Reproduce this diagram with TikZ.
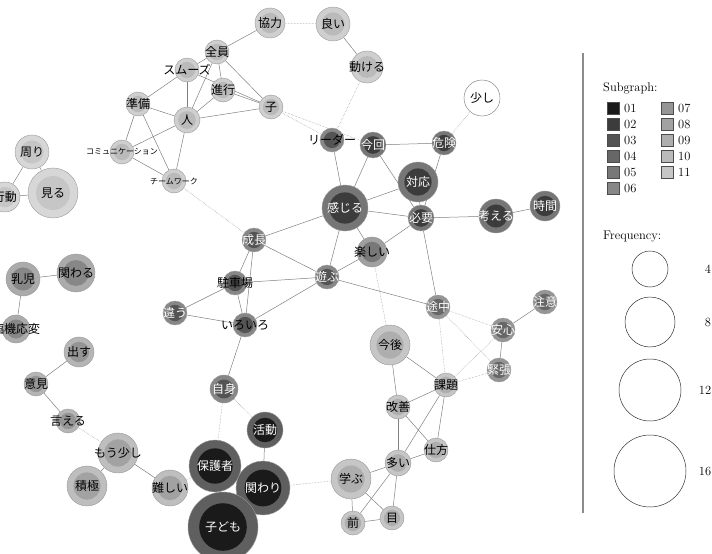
\documentclass[tikz,border=0pt]{standalone}
\usepackage{fontspec}
\newfontfamily\jp{Noto Sans CJK JP}
\usetikzlibrary{calc,backgrounds}
\definecolor{sgA}{HTML}{1A1A1A}
\definecolor{sgB}{HTML}{3C3C3C}
\definecolor{sgC}{HTML}{545454}
\definecolor{sgD}{HTML}{676767}
\definecolor{sgE}{HTML}{787878}
\definecolor{sgF}{HTML}{878787}
\definecolor{sgG}{HTML}{959595}
\definecolor{sgH}{HTML}{A2A2A2}
\definecolor{sgI}{HTML}{AEAEAE}
\definecolor{sgJ}{HTML}{BABABA}
\definecolor{sgK}{HTML}{C6C6C6}
\newcommand\tag[1]{\makebox[0pt]{#1}}
\newcommand\dtag[1]{\makebox[0pt]{\color{white}#1}}

\begin{document}
\begin{tikzpicture}[x=1pt, y=-1pt,
    every node/.style={inner sep=0pt},
    word/.style={circle, draw=black!40, line width=0.4pt,
                 font=\jp\fontsize{12}{12}\selectfont},
    small/.style={font=\jp\fontsize{8}{8}\selectfont},
    core/.style={path picture={\fill[#1] let \p1=(path picture bounding box.east),
                 \p2=(path picture bounding box.center) in (\p2) circle ({0.68*(\x1-\x2)});}},
    g1/.style={word, fill=sgA!70!white, core=sgA},
    g2/.style={word, fill=sgB!70!white, core=sgB},
    g3/.style={word, fill=sgC!70!white, core=sgC},
    g4/.style={word, fill=sgD!70!white, core=sgD},
    g5/.style={word, fill=sgE!70!white, core=sgE},
    g6/.style={word, fill=sgF!70!white, core=sgF},
    g7/.style={word, fill=sgG!70!white, core=sgG},
    g8/.style={word, fill=sgH!70!white, core=sgH},
    g9/.style={word, fill=sgI!70!white, core=sgI},
    g10/.style={word, fill=sgJ!70!white, core=sgJ},
    g11/.style={word, fill=sgK!70!white, core=sgK},
    lone/.style={word, fill=white, draw=black!55},
    link/.style={draw=black!50, line width=0.5pt},
    weak/.style={draw=black!40, line width=0.5pt, densely dotted},
    key/.style={rectangle, draw=black!70, minimum size=12},
    freq/.style={circle, draw=black!80, line width=0.5pt},
    legend/.style={font=\fontsize{12.5}{12.5}\selectfont}]
  \useasboundingbox (0,0) rectangle (712,554);
  % teamwork cluster (top left)
  \node[g10, minimum size=30] (kyoryoku) at (270,23) {\tag{協力}};
  \node[g10, minimum size=34] (yoi) at (333,24) {\tag{良い}};
  \node[g10, minimum size=32] (ugokeru) at (367,67) {\tag{動ける}};
  \node[g10, minimum size=24] (zenin) at (217,52) {\tag{全員}};
  \node[g10, minimum size=24] (smooth) at (187,70) {\tag{スムーズ}};
  \node[g10, minimum size=24] (shinko) at (223,90) {\tag{進行}};
  \node[g10, minimum size=24] (ko) at (271,107) {\tag{子}};
  \node[g10, minimum size=24] (junbi) at (138,104) {\tag{準備}};
  \node[g10, minimum size=26] (hito) at (187,120) {\tag{人}};
  \node[g10, small, minimum size=24] (comm) at (122,152) {\tag{コミュニケーション}};
  \node[g10, small, minimum size=24] (team) at (174,181) {\tag{チームワーク}};
  % small groups on the left
  \node[g11, minimum size=34] (mawari) at (32,152) {\tag{周り}};
  \node[g11, minimum size=50] (miru) at (53,193) {\tag{見る}};
  \node[g11, minimum size=30] (kodo) at (5,197) {\tag{行動}};
  \node[g6, minimum size=34] (nyuji) at (23,279) {\tag{乳児}};
  \node[g6, minimum size=38] (kakawaru) at (76,273) {\tag{関わる}};
  \node[g6, minimum size=28] (rinki) at (16,329) {\tag{臨機応変}};
  \node[g7, minimum size=30] (dasu) at (79,352) {\tag{出す}};
  \node[g7, minimum size=24] (iken) at (36,384) {\tag{意見}};
  \node[g7, minimum size=24] (ieru) at (68,421) {\tag{言える}};
  \node[g8, minimum size=40] (mosukoshi) at (118,453) {\tag{もう少し}};
  \node[g8, minimum size=40] (sekkyoku) at (87,486) {\tag{積極}};
  \node[g8, minimum size=36] (muzukashii) at (170,488) {\tag{難しい}};
  % centre
  \node[lone, minimum size=36] (sukoshi) at (482,98) {\tag{少し}};
  \node[g3, minimum size=24] (leader) at (332,140) {\tag{リーダー}};
  \node[g2, minimum size=26] (konkai) at (373,145) {\dtag{今回}};
  \node[g2, minimum size=24] (kiken) at (444,143) {\dtag{危険}};
  \node[g2, minimum size=40] (taio) at (418,182) {\dtag{対応}};
  \node[g2, minimum size=46] (kanjiru) at (345,208) {\dtag{感じる}};
  \node[g2, minimum size=26] (hitsuyo) at (421,218) {\dtag{必要}};
  \node[g2, minimum size=34] (kangaeru) at (496,216) {\dtag{考える}};
  \node[g2, minimum size=30] (jikan) at (545,206) {\dtag{時間}};
  \node[g5, minimum size=30] (tanoshii) at (372,252) {\tag{楽しい}};
  \node[g3, minimum size=24] (seicho) at (254,240) {\dtag{成長}};
  \node[g3, minimum size=24] (parking) at (235,283) {\tag{駐車場}};
  \node[g3, minimum size=24] (asobu) at (327,277) {\dtag{遊ぶ}};
  \node[g3, minimum size=24] (chigau) at (175,313) {\dtag{違う}};
  \node[g3, minimum size=24] (iroiro) at (245,325) {\tag{いろいろ}};
  \node[g3, minimum size=28] (jishin) at (224,389) {\dtag{自身}};
  \node[g4, minimum size=24] (tochu) at (438,307) {\dtag{途中}};
  \node[g4, minimum size=24] (chui) at (545,302) {\dtag{注意}};
  \node[g4, minimum size=24] (anshin) at (503,330) {\dtag{安心}};
  \node[g4, minimum size=24] (kincho) at (499,370) {\dtag{緊張}};
  % lower right
  \node[g9, minimum size=40] (kongo) at (390,345) {\tag{今後}};
  \node[g9, minimum size=24] (kadai) at (446,385) {\tag{課題}};
  \node[g9, minimum size=24] (kaizen) at (398,407) {\tag{改善}};
  \node[g9, minimum size=24] (shikata) at (436,450) {\tag{仕方}};
  \node[g9, minimum size=26] (ooi) at (398,463) {\tag{多い}};
  \node[g9, minimum size=40] (manabu) at (351,479) {\tag{学ぶ}};
  \node[g9, minimum size=24] (mae) at (353,523) {\tag{前}};
  \node[g9, minimum size=24] (me) at (392,518) {\tag{目}};
  % bottom
  \node[g1, minimum size=36] (katsudo) at (265,430) {\dtag{活動}};
  \node[g1, minimum size=52] (hogosha) at (215,466) {\dtag{保護者}};
  \node[g1, minimum size=54] (kakawari) at (263,488) {\dtag{関わり}};
  \node[g1, minimum size=70] (kodomo) at (223,527) {\dtag{子ども}};

  \begin{pgfonlayer}{background}
  \draw[link] (kyoryoku)--(zenin); \draw[link] (yoi)--(ugokeru);
  \draw[link] (zenin)--(smooth); \draw[link] (zenin)--(shinko); \draw[link] (zenin)--(ko);
  \draw[link] (zenin)--(hito); \draw[link] (smooth)--(junbi); \draw[link] (smooth)--(hito);
  \draw[link] (smooth)--(ko); \draw[link] (shinko)--(ko); \draw[link] (shinko)--(hito);
  \draw[link] (hito)--(ko); \draw[link] (junbi)--(hito); \draw[link] (junbi)--(comm);
  \draw[link] (junbi)--(team); \draw[link] (hito)--(comm); \draw[link] (hito)--(team);
  \draw[link] (comm)--(team);
  \draw[link] (mawari)--(kodo); \draw[link] (mawari)--(miru); \draw[link] (kodo)--(miru);
  \draw[link] (nyuji)--(kakawaru); \draw[link] (nyuji)--(rinki);
  \draw[link] (dasu)--(iken); \draw[link] (iken)--(ieru);
  \draw[link] (mosukoshi)--(sekkyoku); \draw[link] (mosukoshi)--(muzukashii);
  \draw[link] (leader)--(kanjiru); \draw[link] (konkai)--(kanjiru); \draw[link] (konkai)--(kiken);
  \draw[link] (konkai)--(hitsuyo); \draw[link] (kiken)--(hitsuyo); \draw[link] (taio)--(kanjiru);
  \draw[link] (taio)--(hitsuyo); \draw[link] (kanjiru)--(hitsuyo); \draw[link] (kanjiru)--(tanoshii);
  \draw[link] (kanjiru)--(asobu); \draw[link] (kanjiru)--(seicho); \draw[link] (hitsuyo)--(kangaeru);
  \draw[link] (kangaeru)--(jikan); \draw[link] (hitsuyo)--(tanoshii); \draw[link] (hitsuyo)--(tochu);
  \draw[link] (tanoshii)--(asobu); \draw[link] (seicho)--(asobu); \draw[link] (seicho)--(parking);
  \draw[link] (seicho)--(iroiro); \draw[link] (parking)--(asobu); \draw[link] (parking)--(chigau);
  \draw[link] (parking)--(iroiro); \draw[link] (chigau)--(iroiro); \draw[link] (asobu)--(iroiro);
  \draw[link] (asobu)--(tochu); \draw[link] (iroiro)--(jishin);
  \draw[link] (chui)--(anshin); \draw[link] (anshin)--(kincho);
  \draw[link] (kongo)--(kadai); \draw[link] (kongo)--(kaizen); \draw[link] (kadai)--(kaizen);
  \draw[link] (kadai)--(shikata); \draw[link] (kadai)--(ooi); \draw[link] (kaizen)--(ooi);
  \draw[link] (kaizen)--(shikata); \draw[link] (shikata)--(ooi); \draw[link] (ooi)--(manabu);
  \draw[link] (ooi)--(mae); \draw[link] (ooi)--(me); \draw[link] (manabu)--(mae);
  \draw[link] (manabu)--(me); \draw[link] (mae)--(me);
  \draw[link] (katsudo)--(kakawari); \draw[link] (hogosha)--(kodomo);
  \draw[link] (hogosha)--(kakawari); \draw[link] (kakawari)--(kodomo);
  % weaker ties
  \draw[weak] (kyoryoku)--(yoi); \draw[weak] (ugokeru)--(leader); \draw[weak] (ko)--(leader);
  \draw[weak] (ko)--(konkai); \draw[weak] (kiken)--(sukoshi); \draw[weak] (team)--(seicho);
  \draw[weak] (tanoshii)--(kongo); \draw[weak] (tochu)--(anshin); \draw[weak] (tochu)--(kincho);
  \draw[weak] (tochu)--(kadai); \draw[weak] (kadai)--(anshin); \draw[weak] (kadai)--(kincho);
  \draw[weak] (ieru)--(mosukoshi); \draw[weak] (muzukashii)--(hogosha);
  \draw[weak] (jishin)--(hogosha); \draw[weak] (jishin)--(katsudo); \draw[weak] (kakawari)--(manabu);
  \end{pgfonlayer}

  % legend
  \draw[draw=black!45, line width=1.2pt] (583,53) -- (583,513);
  \node[legend, anchor=west] (subhead) at (603,88) {Subgraph:};
  \node[key, fill=sgA] (k01) at (613,108) {}; \node[legend, anchor=west] (t01) at (624,108) {01};
  \node[key, fill=sgB] (k02) at (613,124) {}; \node[legend, anchor=west] (t02) at (624,124) {02};
  \node[key, fill=sgC] (k03) at (613,140) {}; \node[legend, anchor=west] (t03) at (624,140) {03};
  \node[key, fill=sgD] (k04) at (613,156) {}; \node[legend, anchor=west] (t04) at (624,156) {04};
  \node[key, fill=sgE] (k05) at (613,172) {}; \node[legend, anchor=west] (t05) at (624,172) {05};
  \node[key, fill=sgF] (k06) at (613,188) {}; \node[legend, anchor=west] (t06) at (624,188) {06};
  \node[key, fill=sgG] (k07) at (667,108) {}; \node[legend, anchor=west] (t07) at (678,108) {07};
  \node[key, fill=sgH] (k08) at (667,124) {}; \node[legend, anchor=west] (t08) at (678,124) {08};
  \node[key, fill=sgI] (k09) at (667,140) {}; \node[legend, anchor=west] (t09) at (678,140) {09};
  \node[key, fill=sgJ] (k10) at (667,156) {}; \node[legend, anchor=west] (t10) at (678,156) {10};
  \node[key, fill=sgK] (k11) at (667,172) {}; \node[legend, anchor=west] (t11) at (678,172) {11};
  \node[legend, anchor=west] (freqhead) at (603,237) {Frequency:};
  \node[freq, minimum size=36] (f4) at (650,269) {}; \node[legend] (n4) at (708,269) {4};
  \node[freq, minimum size=50] (f8) at (650,322) {}; \node[legend] (n8) at (708,322) {8};
  \node[freq, minimum size=62] (f12) at (650,390) {}; \node[legend] (n12) at (705,390) {12};
  \node[freq, minimum size=72] (f16) at (650,471) {}; \node[legend] (n16) at (705,471) {16};
\end{tikzpicture}
\end{document}
